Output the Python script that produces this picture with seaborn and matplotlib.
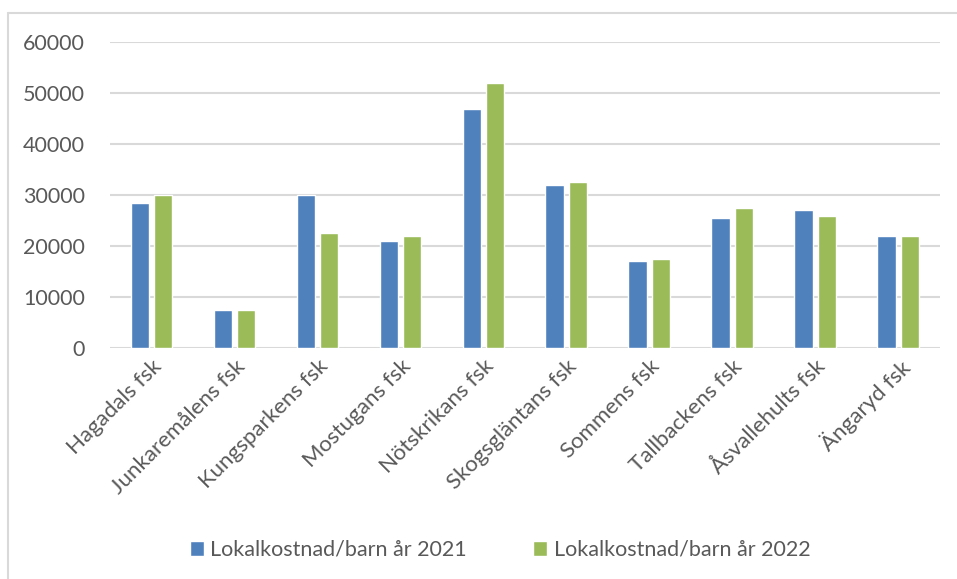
import matplotlib
matplotlib.use("Agg")
import matplotlib.pyplot as plt
import pandas as pd
import seaborn as sns
from matplotlib.lines import Line2D

sns.set_theme(style="white")
plt.rcParams["font.family"] = ["Lato", "DejaVu Sans"]

schools = [
    "Hagadals fsk", "Junkaremålens fsk", "Kungsparkens fsk", "Mostugans fsk",
    "Nötskrikans fsk", "Skogsgläntans fsk", "Sommens fsk", "Tallbackens fsk",
    "Åsvallehults fsk", "Ängaryd fsk",
]
cost_2021 = [28500, 7500, 30000, 21000, 47000, 32000, 17000, 25500, 27000, 22000]
cost_2022 = [30000, 7500, 22500, 22000, 52000, 32500, 17500, 27500, 26000, 22000]
series = ["Lokalkostnad/barn år 2021", "Lokalkostnad/barn år 2022"]
colors = ["#4F81BD", "#9BBB59"]

df = pd.DataFrame({"skola": schools, series[0]: cost_2021, series[1]: cost_2022})
long_df = df.melt(id_vars="skola", var_name="serie", value_name="kostnad")

fig = plt.figure(figsize=(9.57, 5.79), dpi=100)
ax = fig.add_axes([0.115, 0.399, 0.867, 0.528])

sns.barplot(data=long_df, x="skola", y="kostnad", hue="serie", hue_order=series,
            palette=colors, width=0.56, gap=0.2, saturation=1, ax=ax)

ax.set_ylim(0, 60000)
ax.set_yticks(range(0, 60001, 10000))
ax.grid(axis="y", color="#D9D9D9", linewidth=1.5)
ax.set_axisbelow(True)
for side in ax.spines.values():
    side.set_visible(False)
ax.set_xlabel("")
ax.set_ylabel("")
ax.tick_params(axis="both", length=0, colors="#595959")
ax.tick_params(axis="y", pad=18, labelsize=15.5)
ax.tick_params(axis="x", pad=6, labelsize=16)
plt.setp(ax.get_xticklabels(), rotation=45, ha="right", rotation_mode="anchor")

ax.legend(loc="center", ncol=2, frameon=False, fontsize=15.5, labelcolor="#595959",
          handlelength=0.65, handleheight=0.65, handletextpad=0.3, columnspacing=3.1)
leg = ax.get_legend()
leg.set_bbox_to_anchor((0.5225, 1 - 550 / 579), transform=fig.transFigure)

# chart frame (top and left edges only)
fig.add_artist(Line2D([8 / 957, 1], [1 - 13 / 579, 1 - 13 / 579], color="#D9D9D9", lw=1.5))
fig.add_artist(Line2D([8 / 957, 8 / 957], [0, 1 - 13 / 579], color="#D9D9D9", lw=1.5))

fig.savefig("out.png", dpi=100)
